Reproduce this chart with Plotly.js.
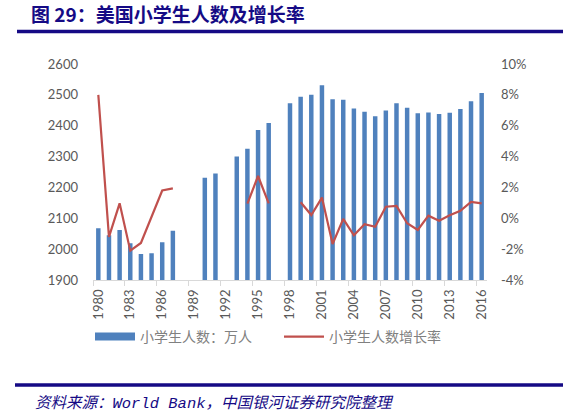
<!DOCTYPE html>
<html>
<head>
<meta charset="utf-8">
<script src="https://cdn.plot.ly/plotly-3.0.1.min.js"></script>
<style>
html,body{margin:0;padding:0;background:#fff;}
#chart{width:563px;height:417px;}
</style>
</head>
<body>
<div id="chart"></div>
<script>
// Data
const years = ['1980','1981','1982','1983','1984','1985','1986','1987','1988','1989','1990','1991','1992','1993','1994','1995','1996','1997','1998','1999','2000','2001','2002','2003','2004','2005','2006','2007','2008','2009','2010','2011','2012','2013','2014','2015','2016'];
const students = [2068,2045,2062,2019,1984,1987,2022,2060,null,null,2231,2245,null,2300,2325,2386,2409,null,2473,2494,2500,2531,2486,2484,2456,2445,2431,2449,2473,2458,2440,2443,2438,2442,2454,2479,2506];
const growth = [8.0,-1.2,0.97,-2.1,-1.6,0.1,1.8,1.94,null,null,null,null,null,null,0.95,2.74,0.97,null,null,1.04,0.21,1.34,-1.67,-0.04,-1.1,-0.39,-0.55,0.75,0.8,-0.32,-0.76,0.17,-0.16,0.19,0.49,1.06,0.97];
const leftTicks = [1900,2000,2100,2200,2300,2400,2500,2600];
const rightTicks = [-4,-2,0,2,4,6,8,10];
const rightTickText = ['-4%','-2%','0%','2%','4%','6%','8%','10%'];
const seriesNames = ['小学生人数：万人','小学生人数增长率'];
const titleText = '图 29：美国小学生人数及增长率';
const sourceText = '资料来源：World Bank，中国银河证券研究院整理';

const blue = '#4F81BD';
const red = '#C0504D';
const navy = '#150A85';
const tickFont = {family:'Lato, "Liberation Sans", sans-serif', size:13, color:'#595959'};

const W = 563, H = 417, L = 93, R = 76, T = 64, B = 137;
const pw = W - L - R, ph = H - T - B;
const px = x => (x - L) / pw;
const py = y => (H - B - y) / ph;

const traces = [
  {type:'bar', x:years, y:students, name:seriesNames[0], marker:{color:blue}, width:0.42, showlegend:false, yaxis:'y', hoverinfo:'x+y'},
  {type:'scatter', mode:'lines', x:[null], y:[null], name:seriesNames[0], line:{color:blue, width:8}, yaxis:'y', hoverinfo:'skip'},
  {type:'scatter', mode:'lines', x:years, y:growth, name:seriesNames[1], line:{color:red, width:2.2}, connectgaps:false, yaxis:'y2'}
];

const layout = {
  width:W, height:H,
  margin:{l:L, r:R, t:T, b:B, pad:0},
  paper_bgcolor:'#fff', plot_bgcolor:'#fff',
  title:{text:titleText, font:{family:'"Noto Sans CJK SC", sans-serif', size:19, color:navy, weight:'bold'}, x:31/W, xanchor:'left', xref:'container', y:1-15.5/H, yanchor:'middle', yref:'container'},
  xaxis:{type:'category', tickmode:'linear', tick0:0, dtick:3, tickangle:-90, tickfont:tickFont, showline:true, linecolor:'#D9D9D9', linewidth:1.3, ticks:'outside', ticklen:5, tickcolor:'#D9D9D9', tickson:'boundaries', ticklabelstandoff:3, showgrid:false, zeroline:false, fixedrange:true},
  yaxis:{range:[1900,2600], tickmode:'array', tickvals:leftTicks, tickfont:tickFont, ticklabelstandoff:14, showgrid:false, zeroline:false, showline:false, ticks:'', fixedrange:true},
  yaxis2:{range:[-4,10], overlaying:'y', side:'right', tickmode:'array', tickvals:rightTicks, ticktext:rightTickText, tickfont:tickFont, ticklabelstandoff:13, showgrid:false, zeroline:false, showline:false, ticks:'', fixedrange:true},
  bargap:0.6,
  legend:{orientation:'h', x:px(90), xanchor:'left', y:py(337), yanchor:'middle', font:{family:'"Noto Sans CJK SC", sans-serif', size:14, color:'#808080'}, traceorder:'normal', itemwidth:40, entrywidth:134, entrywidthmode:'pixels', bgcolor:'rgba(0,0,0,0)'},
  shapes:[
    {type:'line', xref:'paper', yref:'paper', x0:px(17), x1:px(563), y0:py(31.5), y1:py(31.5), line:{color:navy, width:3.5}},
    {type:'line', xref:'paper', yref:'paper', x0:px(15), x1:px(563), y0:py(385), y1:py(385), line:{color:navy, width:3.5}}
  ],
  annotations:[
    {xref:'paper', yref:'paper', x:px(33), y:py(403), xanchor:'left', yanchor:'middle', showarrow:false, text:sourceText, font:{family:'"Liberation Mono", "Noto Sans CJK SC", monospace', size:15.5, color:navy, style:'italic'}}
  ],
  showlegend:true
};

Plotly.newPlot('chart', traces, layout, {displayModeBar:false, staticPlot:true});
</script>
</body>
</html>
